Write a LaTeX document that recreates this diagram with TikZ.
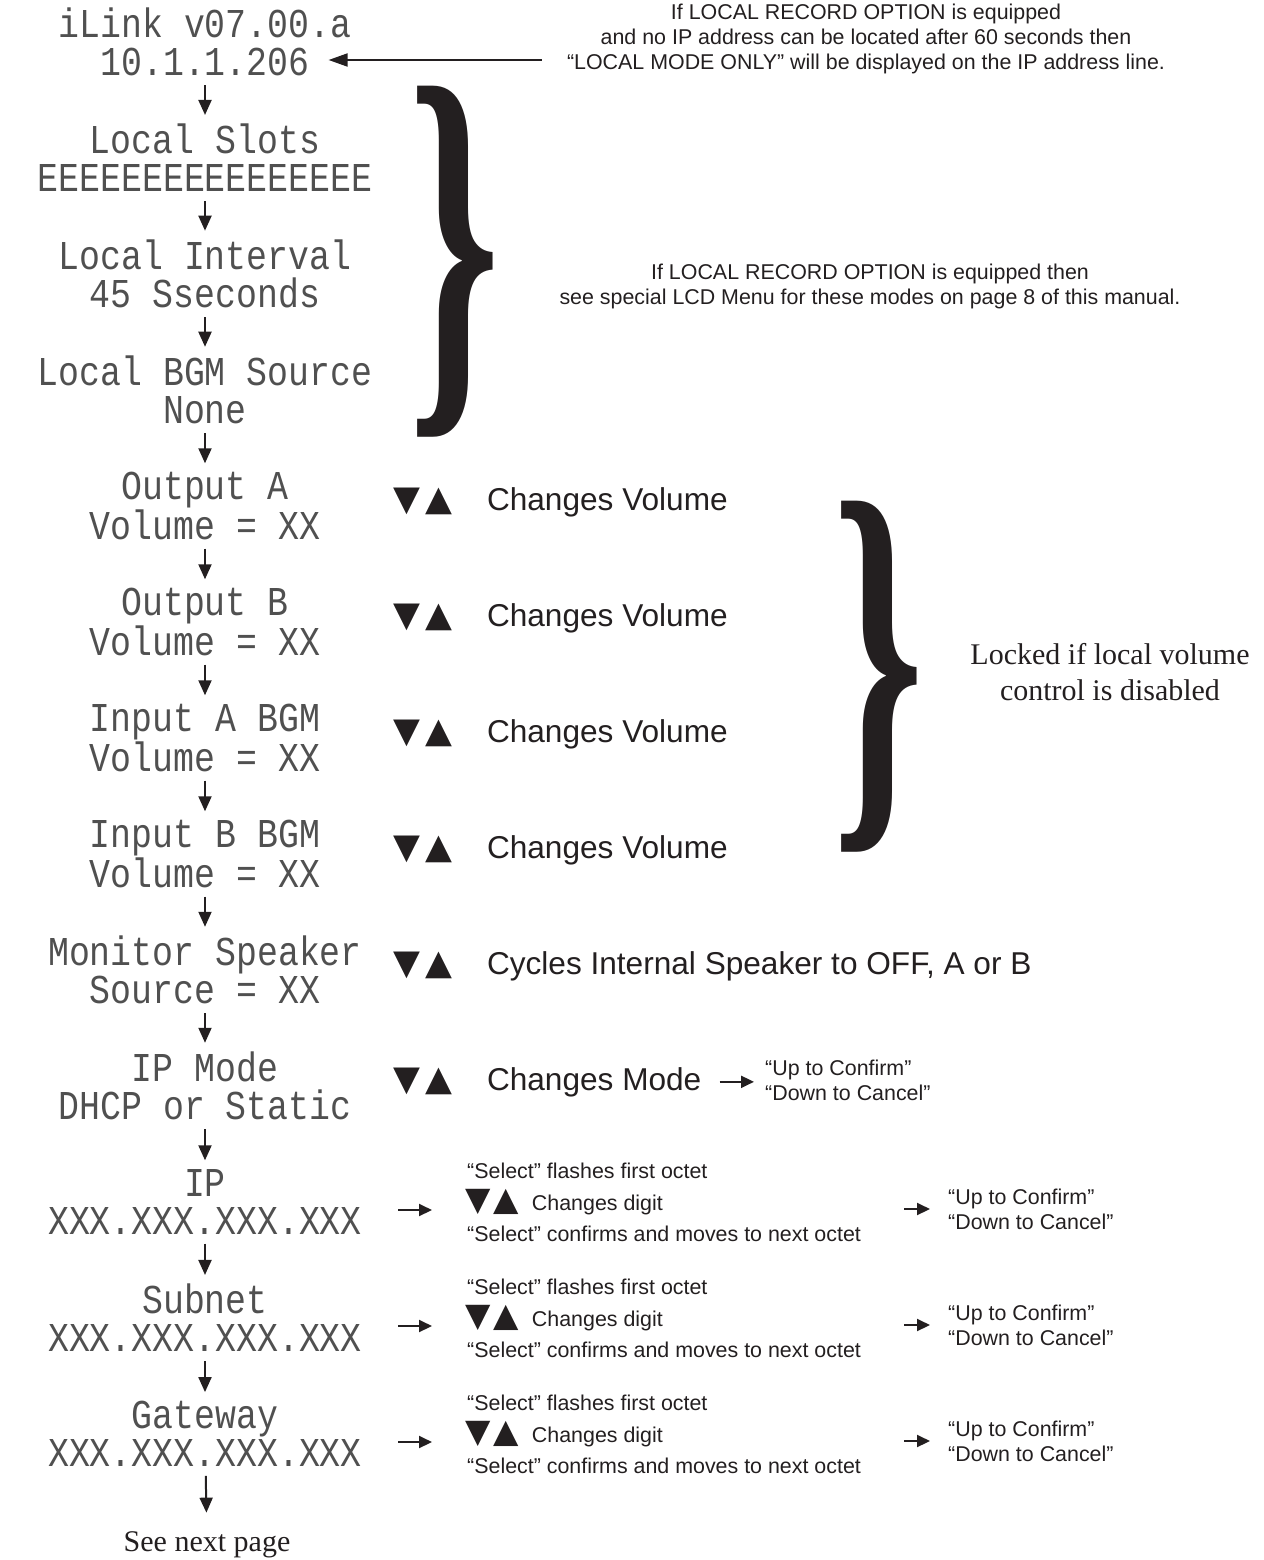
\documentclass[tikz,border=0pt]{standalone}
\usepackage{fontspec}
\usepackage{graphicx}
\setmainfont{Liberation Sans}
\newfontfamily\lcdfont[FakeStretch=0.85]{Liberation Mono}
\newfontfamily\symfont{DejaVu Sans}
\newfontfamily\bookfont{Liberation Serif}
\usetikzlibrary{arrows.meta,calc,positioning}
\definecolor{ink}{RGB}{35,31,32}
\definecolor{lcdink}{RGB}{80,80,80}
\tikzset{
  lcd/.style={font=\lcdfont\fontsize{41}{38}\selectfont,text=lcdink,align=center,inner sep=0pt},
  note/.style={font=\fontsize{21.4}{25}\selectfont,text=ink,inner sep=0pt},
  keys/.style={font=\fontsize{31.6}{36}\selectfont,text=ink,inner sep=0pt,anchor=base west},
  book/.style={font=\bookfont\fontsize{30}{36}\selectfont,text=ink,inner sep=0pt},
  bracket/.style={font=\bookfont\bfseries,text=ink,inner sep=0pt},
  flow/.style={draw=ink,line width=2pt,-{Triangle[length=15pt,width=13pt]},shorten <=9pt,shorten >=9pt},
  tick/.style={draw=ink,line width=2pt,-{Triangle[length=13pt,width=12pt]}}
}
\newcommand{\lcdscreen}[4]{%
  \node[lcd] (#1) at (205,{42+116*#2}) {#3\\#4};%
}
\newcommand{\keyrow}[3]{%
  \node[keys] (#1) at (393,{46+116*#2}) {{\symfont\fontsize{35}{35}\selectfont ▼\hspace{5pt}▲}\hspace{35pt}#3};%
}
\newcommand{\octetrow}[3]{%
  \pgfmathsetmacro{\oY}{42+116*#3}%
  \node[note,anchor=base west] (#1a) at (467,\oY-24) {“Select” flashes first octet};%
  \node[note,anchor=base west] (#1b) at (465,\oY+8) {{\symfont\fontsize{33}{33}\selectfont ▼\hspace{3pt}▲}\hspace{13pt}Changes digit};%
  \node[note,anchor=base west] (#1c) at (467,\oY+39) {“Select” confirms and moves to next octet};%
  \node[note,anchor=west,align=left] (#1d) at (948,\oY+7) {“Up to Confirm”\\“Down to Cancel”};%
  \draw[tick,shorten <=36pt,shorten >=35pt] ([yshift=-8pt]#2.east) -- ([yshift=-8pt]#2.east -| #1a.west);%
  \draw[tick,shorten <=43pt,shorten >=18pt] ([yshift=-7pt]#2.east -| #1c.east) -- ([yshift=-7pt]#2.east -| #1d.west);%
}

\begin{document}
\begin{tikzpicture}[x=1pt,y=-1pt]
  \useasboundingbox (0,0) rectangle (1263,1560);
  % menu screens
  \lcdscreen{s0}{0}{iLink v07.00.a}{10.1.1.206}
  \lcdscreen{s1}{1}{Local Slots}{EEEEEEEEEEEEEEEE}
  \lcdscreen{s2}{2}{Local Interval}{45 Sseconds}
  \lcdscreen{s3}{3}{Local BGM Source}{None}
  \lcdscreen{s4}{4}{Output A}{Volume = XX}
  \lcdscreen{s5}{5}{Output B}{Volume = XX}
  \lcdscreen{s6}{6}{Input A BGM}{Volume = XX}
  \lcdscreen{s7}{7}{Input B BGM}{Volume = XX}
  \lcdscreen{s8}{8}{Monitor Speaker}{Source = XX}
  \lcdscreen{s9}{9}{IP Mode}{DHCP or Static}
  \lcdscreen{s10}{10}{IP}{XXX.XXX.XXX.XXX}
  \lcdscreen{s11}{11}{Subnet}{XXX.XXX.XXX.XXX}
  \lcdscreen{s12}{12}{Gateway}{XXX.XXX.XXX.XXX}
  \node[book] (nextpage) at (207,1545) {See next page};
  \foreach \i in {0,...,11}{\pgfmathtruncatemacro{\j}{\i+1}\draw[flow] (s\i) -- (s\j);}
  \draw[flow,shorten >=19pt] (s12) -- (nextpage);
  % top notes
  \node[note,align=center] (ipnote) at (866,39) {If LOCAL RECORD OPTION is equipped\\and no IP address can be located after 60 seconds then\\“LOCAL MODE ONLY” will be displayed on the IP address line.};
  \coordinate (ipline) at ([xshift=-23pt,yshift=-18pt]s0.east);
  \draw[flow,-{Triangle[length=19pt,width=13pt]},shorten <=25pt,shorten >=0pt] (ipnote.west |- ipline) -- (ipline);
  \node[bracket] (brace1) at (455,262) {\resizebox*{92pt}{350pt}{\}}};
  \node[note,align=center] (recnote) at (870,286) {If LOCAL RECORD OPTION is equipped then\\see special LCD Menu for these modes on page 8 of this manual.};
  % volume keys
  \keyrow{k4}{4}{Changes Volume}
  \keyrow{k5}{5}{Changes Volume}
  \keyrow{k6}{6}{Changes Volume}
  \keyrow{k7}{7}{Changes Volume}
  \keyrow{k8}{8}{Cycles Internal Speaker to OFF, A or B}
  \keyrow{k9}{9}{Changes Mode}
  \node[bracket] (brace2) at (879,677) {\resizebox*{92pt}{350pt}{\}}};
  \node[book,align=center] (locknote) at (1110,672) {Locked if local volume\\control is disabled};
  \node[note,anchor=west,align=left] (k9c) at (765,1080) {“Up to Confirm”\\“Down to Cancel”};
  \draw[tick,shorten <=18pt,shorten >=11pt] (k9.east) -- (k9.east -| k9c.west);
  % address entry
  \octetrow{o10}{s10}{10}
  \octetrow{o11}{s11}{11}
  \octetrow{o12}{s12}{12}
\end{tikzpicture}
\end{document}
